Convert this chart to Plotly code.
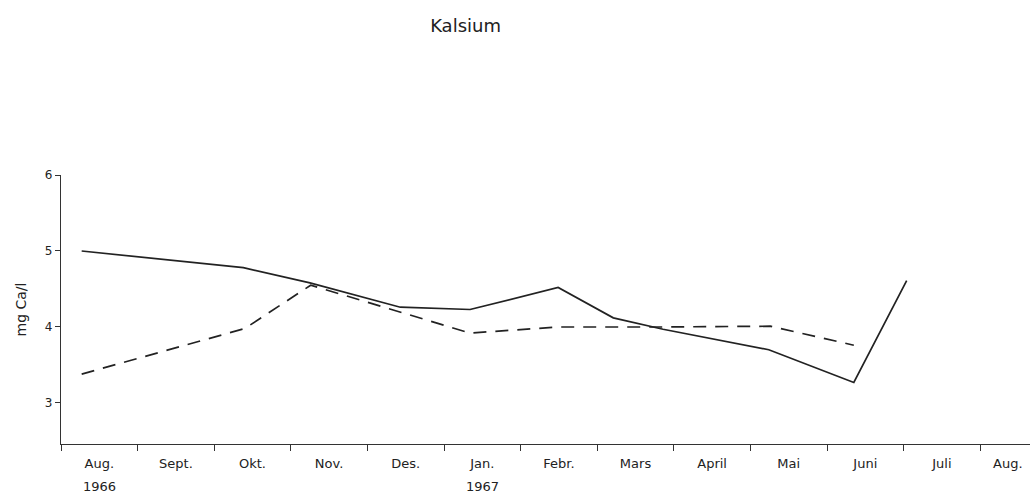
import plotly.graph_objects as go

# Month intervals (t = months since start of Aug 1966)
month_labels = ["Aug.", "Sept.", "Okt.", "Nov.", "Des.", "Jan.", "Febr.", "Mars",
                "April", "Mai", "Juni", "Juli", "Aug."]
month_pos = [0.5, 1.5, 2.5, 3.5, 4.5, 5.5, 6.5, 7.5, 8.5, 9.5, 10.5, 11.5, 12.36]
year_labels = ["1966", "1967"]
year_pos = [0.5, 5.5]

# Solid series
solid_t = [0.27, 2.38, 3.25, 4.43, 5.34, 6.49, 7.21, 7.86, 9.24, 10.35, 11.04]
solid_v = [5.00, 4.78, 4.58, 4.26, 4.23, 4.52, 4.12, 3.97, 3.70, 3.27, 4.61]

# Dashed series
dash_t = [0.27, 2.40, 3.26, 5.34, 6.49, 7.21, 7.86, 9.26, 10.35]
dash_v = [3.38, 3.98, 4.55, 3.92, 4.00, 4.00, 4.00, 4.01, 3.76]

y_ticks = [3, 4, 5, 6]

FONT = "DejaVu Sans"
INK = "#222222"

fig = go.Figure()
fig.add_trace(go.Scatter(x=solid_t, y=solid_v, mode="lines",
                         line=dict(color=INK, width=1.7), showlegend=False))
fig.add_trace(go.Scatter(x=dash_t, y=dash_v, mode="lines",
                         line=dict(color=INK, width=1.7, dash="13px,9px"), showlegend=False))

annotations = []
for lab, pos in zip(year_labels, year_pos):
    annotations.append(dict(x=pos, y=0, xref="x", yref="paper", text=lab,
                            showarrow=False, yshift=-42, yanchor="middle",
                            font=dict(family=FONT, size=13, color=INK)))

fig.update_layout(
    width=1030, height=497,
    paper_bgcolor="white", plot_bgcolor="white",
    margin=dict(l=61, r=0, t=175, b=53),
    title=dict(text="Kalsium", x=0.452, xanchor="center", y=0.948, yanchor="middle",
               font=dict(family=FONT, size=18, color=INK)),
    xaxis=dict(
        range=[0, 12.65], showgrid=False, zeroline=False,
        showline=True, linecolor="#333", linewidth=1.2,
        tickvals=month_pos,
        ticktext=month_labels, ticks="", ticklen=0, ticklabelstandoff=7,
        tickfont=dict(family=FONT, size=13, color=INK),
        minor=dict(tick0=0, dtick=1, ticks="outside", ticklen=6,
                   tickcolor="#333", tickwidth=1.2, showgrid=False),
    ),
    yaxis=dict(
        range=[2.46, 6.0], showgrid=False, zeroline=False,
        showline=True, linecolor="#333", linewidth=1.2,
        tickvals=y_ticks, ticks="outside", ticklen=5, tickcolor="#333", tickwidth=1.2,
        tickfont=dict(family=FONT, size=12, color=INK),
        title=dict(text="mg Ca/l", font=dict(family=FONT, size=14, color=INK), standoff=14),
    ),
    annotations=annotations,
)

fig.write_html("out.html", config={"displayModeBar": False},
               post_script="document.body.style.margin='0px';")
